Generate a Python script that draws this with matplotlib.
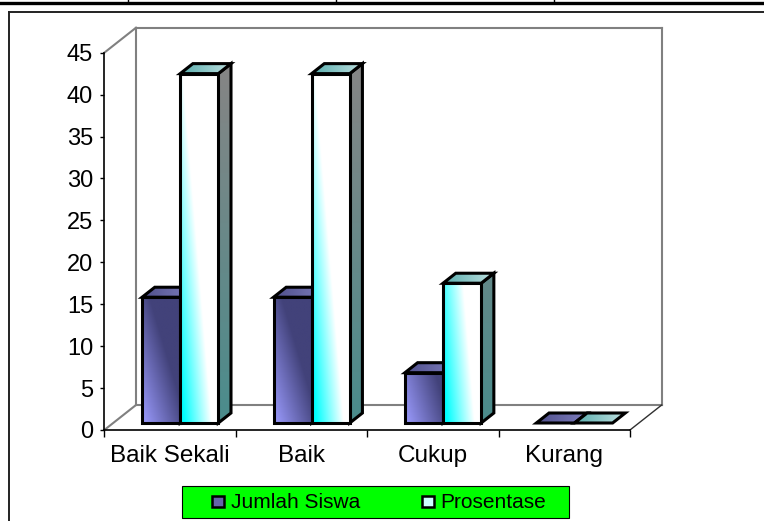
"""Jumlah siswa / prosentase per kategori, Excel-style 3D columns."""

import numpy as np
import matplotlib
matplotlib.use("Agg")
import matplotlib.pyplot as plt  # noqa: E402
from matplotlib.colors import to_rgb  # noqa: E402
from matplotlib.lines import Line2D  # noqa: E402
from matplotlib.patches import Polygon, Rectangle  # noqa: E402

categories = ["Baik Sekali", "Baik", "Cukup", "Kurang"]
jumlah_siswa = [15, 15, 6, 0]
prosentase = [41.67, 41.67, 16.67, 0]
y_ticks = list(range(0, 50, 5))
series_names = ["Jumlah Siswa", "Prosentase"]

W, H = 764, 521
plt.rcParams["font.family"] = ["Liberation Sans", "DejaVu Sans"]

fig = plt.figure(figsize=(W / 100, H / 100), dpi=100)
# front plane of the 3D box, in pixels: x 104..630, y 430..53 (from top)
ax = fig.add_axes([104.3 / W, (H - 430) / H, 525.7 / W, 377.3 / H])
n = len(categories)
ymax = y_ticks[-1]
ax.set_xlim(0, n)
ax.set_ylim(0, ymax)
ax.patch.set_visible(False)

px_x = 525.7 / n          # pixels per x unit
px_y = 377.3 / ymax       # pixels per y unit
DX, DY = 31.7 / px_x, 25.0 / px_y   # depth of the floor
BAR_W = 0.29
S0 = 0.28                 # bar front sits this far into the depth
SD = 0.40                 # bar depth as fraction of floor depth


def shaded(verts, c0, c1, tfun, z):
    verts = np.asarray(verts, dtype=float)
    x0, y0 = verts.min(0)
    x1, y1 = verts.max(0)
    xs = np.linspace(x0, x1, 60)
    ys = np.linspace(y0, y1, 200)
    X, Y = np.meshgrid(xs, ys)
    t = np.clip(tfun(X, Y), 0, 1)[..., None]
    img = (1 - t) * np.array(to_rgb(c0)) + t * np.array(to_rgb(c1))
    im = ax.imshow(img, extent=(x0, x1, y0, y1), origin="lower",
                   aspect="auto", interpolation="bilinear", zorder=z)
    poly = Polygon(verts, closed=True, facecolor="none", edgecolor="black",
                   lw=2.2, joinstyle="miter", zorder=z + 0.01)
    ax.add_patch(poly)
    im.set_clip_path(poly)


def bar3d(xl, yb, h, style, z):
    w = BAR_W
    dx, dy = SD * DX, SD * DY
    front_c0, front_c1, front_t, top_c0, top_c1, side_c0, side_c1 = style
    if h > 0:
        side = [(xl + w, yb), (xl + w + dx, yb + dy),
                (xl + w + dx, yb + h + dy), (xl + w, yb + h)]
        shaded(side, side_c0, side_c1,
               lambda X, Y: (Y - yb) * px_y / 350, z)
    top = [(xl, yb + h), (xl + w, yb + h),
           (xl + w + dx, yb + h + dy), (xl + dx, yb + h + dy)]
    shaded(top, top_c0, top_c1, lambda X, Y: (X - xl) / (w + dx), z + 0.1)
    if h > 0:
        front = [(xl, yb), (xl + w, yb), (xl + w, yb + h), (xl, yb + h)]
        shaded(front, front_c0, front_c1,
               lambda X, Y: front_t((X - xl) / w, (Y - yb) * px_y), z + 0.2)


style_jumlah = ("#9c9cff", "#42427a", lambda u, hp: 0.85 * u + hp / 150,
                "#50508c", "#7c7cbc", "#3a3a66", "#4a4a80")
style_pros = ("#00ffff", "#ffffff", lambda u, hp: -0.15 + 1.4 * u + hp / 330,
              "#5aadad", "#bde0e0", "#4a8c8c", "#858585")

# walls and floor outline
wall = dict(color="#808080", lw=1.5, clip_on=False, zorder=1)
ax.plot([0, DX], [ymax, ymax + DY], **wall)
ax.plot([0, DX], [0, DY], **wall)
ax.plot([DX, DX], [DY, ymax + DY], **wall)
ax.plot([DX, n + DX], [ymax + DY, ymax + DY], **wall)
ax.plot([n + DX, n + DX], [ymax + DY, DY], **wall)
ax.plot([DX, n + DX], [DY, DY], **wall)
ax.plot([n, n + DX], [0, DY], color="#303030", lw=1, clip_on=False, zorder=1)

for i, (j, p) in enumerate(zip(jumlah_siswa, prosentase)):
    c = i + 0.5 + S0 * DX + 0.01
    yb = S0 * DY
    bar3d(c - BAR_W, yb, j, style_jumlah, 3 + i)
    bar3d(c, yb, p, style_pros, 3.5 + i)

ax.set_xlim(0, n)
ax.set_ylim(0, ymax)

for s in ("top", "right"):
    ax.spines[s].set_visible(False)
for s in ("left", "bottom"):
    ax.spines[s].set_color("black")
    ax.spines[s].set_linewidth(1.2)

ax.set_yticks(y_ticks)
ax.tick_params(axis="y", direction="out", length=3, width=1, pad=5,
               labelsize=17)
ax.set_xticks(range(n + 1))
ax.set_xticklabels([])
ax.set_xticks([k + 0.5 for k in range(n)], minor=True)
ax.set_xticklabels(categories, minor=True)
ax.tick_params(axis="x", which="major", direction="out", length=5, width=1)
ax.tick_params(axis="x", which="minor", length=0, pad=11, labelsize=17.5)


# page furniture: table rule above, chart border
def fline(xs, ys, **kw):
    fig.add_artist(Line2D([x / W for x in xs], [1 - y / H for y in ys],
                          transform=fig.transFigure, **kw))


fline([0, W], [3, 3], color="black", lw=2.4)
for xv in (128, 336, 554):
    fline([xv, xv], [0, 3], color="black", lw=1)
fline([8.7, W], [12, 12], color="#222222", lw=1.4)
fline([8.7, 8.7], [12, H], color="#222222", lw=1.4)

# legend box
fig.add_artist(Rectangle((182 / W, 1 - 518 / H), 387 / W, 32 / H,
                         transform=fig.transFigure, facecolor="#00ff00",
                         edgecolor="black", lw=0.8))
for (mx, tx), name, col in zip([(212, 231), (422, 440)], series_names,
                               ["#6464a8", "#ccffff"]):
    fig.add_artist(Rectangle((mx / W, 1 - 507 / H), 12 / W, 11 / H,
                             transform=fig.transFigure, facecolor=col,
                             edgecolor="black", lw=1.8))
    fig.text(tx / W, 1 - 507.5 / H, name, fontsize=15, va="baseline",
             ha="left")

fig.savefig("out.png", dpi=100)
